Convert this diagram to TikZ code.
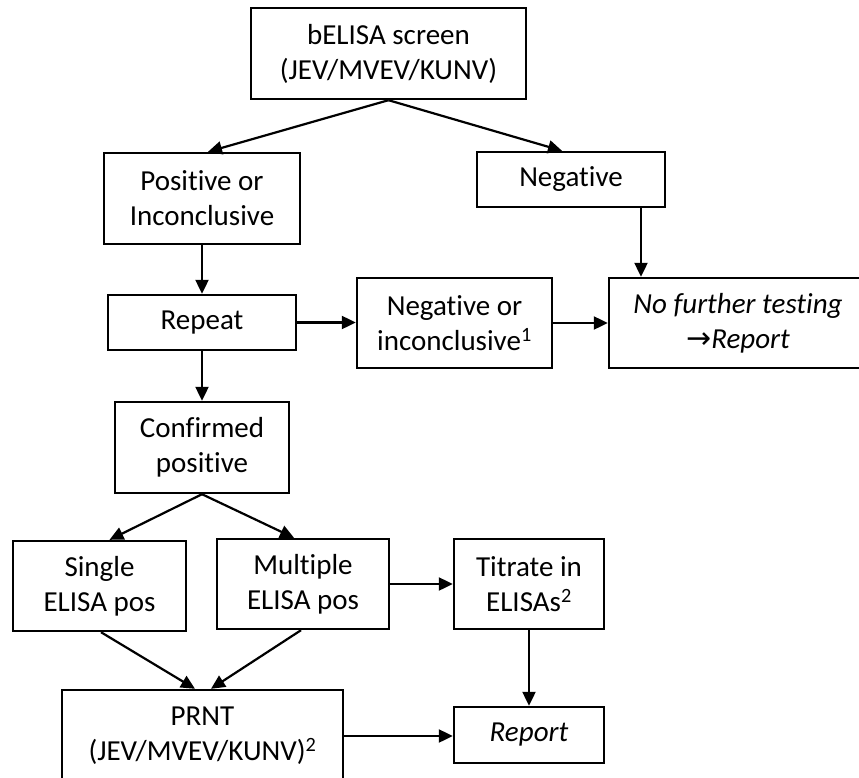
\documentclass[tikz,border=0pt]{standalone}
\usepackage{fontspec}
\setmainfont[Ligatures=NoCommon]{Carlito}
\newfontfamily\arrowfont{DejaVu Sans}
\usetikzlibrary{arrows.meta}
\begin{document}
\begin{tikzpicture}[x=1pt,y=-1pt,
  box/.style={draw, line width=2.4pt, inner sep=0pt, align=center,
    font=\fontsize{29}{35}\selectfont},
  arr/.style={-{Triangle[length=14pt,width=13pt]}, line width=2.2pt}]
\fill[white] (0,0) rectangle (859,778);
\useasboundingbox (0,0) rectangle (859,778);
\node[box, minimum width=275pt, minimum height=91pt] (top) at (388.5,53.5) {bELISA screen\\(JEV/MVEV/KUNV)};
\node[box, minimum width=196pt, minimum height=91pt] (pos) at (202,198.5) {Positive or\\Inconclusive};
\node[box, minimum width=188pt, minimum height=55pt] (neg) at (571,179.5) {Negative};
\node[box, minimum width=188pt, minimum height=55pt] (rep) at (202,322.5) {Repeat};
\node[box, minimum width=195pt, minimum height=90pt] (neginc) at (454.5,323) {Negative or\\inconclusive\textsuperscript{1}};
\node[box, minimum width=258pt, minimum height=90pt] (nft) at (738,323) {\itshape No further testing\\\itshape{\arrowfont\fontsize{30}{35}\selectfont →}Report};
\node[box, minimum width=174pt, minimum height=91pt] (conf) at (202,447.5) {Confirmed\\positive};
\node[box, minimum width=173pt, minimum height=90pt] (single) at (99.5,586) {Single\\ELISA pos};
\node[box, minimum width=172pt, minimum height=90pt] (multi) at (303,584) {Multiple\\ELISA pos};
\node[box, minimum width=150pt, minimum height=90pt] (titr) at (529,584) {Titrate in\\ELISAs\textsuperscript{2}};
\node[box, minimum width=281pt, minimum height=92pt] (prnt) at (202.5,736) {PRNT\\(JEV/MVEV/KUNV)\textsuperscript{2}};
\node[box, minimum width=150pt, minimum height=56pt] (rep2) at (529,735) {\itshape Report};
\draw[arr] (top.south) -- ([xshift=6pt]pos.north);
\draw[arr] (top.south) -- ([xshift=-9pt]neg.north);
\draw[arr] (pos.south) -- (rep.north);
\draw[arr] ([xshift=70pt]neg.south) -- ([xshift=70pt]neg.south |- nft.north);
\draw[arr] (rep.east) -- (rep.east -| neginc.west);
\draw[arr] (neginc.east) -- (nft.west);
\draw[arr] (rep.south) -- (conf.north);
\draw[arr] (conf.south) -- ([xshift=10pt]single.north);
\draw[arr] (conf.south) -- ([xshift=-9pt]multi.north);
\draw[arr] ([xshift=1.5pt]single.south) -- ([xshift=-7.5pt]prnt.north);
\draw[arr] ([xshift=-2pt]multi.south) -- ([xshift=8.5pt]prnt.north);
\draw[arr] (multi.east) -- (multi.east -| titr.west);
\draw[arr] (titr.south) -- (rep2.north);
\draw[arr] (prnt.east) -- (prnt.east -| rep2.west);
\end{tikzpicture}
\end{document}
